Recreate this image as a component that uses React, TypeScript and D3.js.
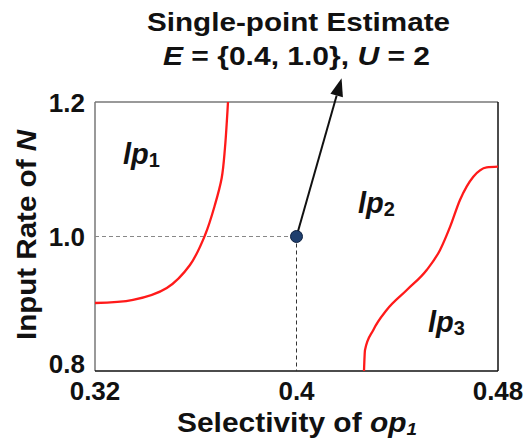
import React from "react";
import * as d3 from "d3";

// axis ticks
const xTicks = [0.32, 0.4, 0.48];
const xTickLabels = ["0.32", "0.4", "0.48"];
const yTicks = [0.8, 1.0, 1.2];
const yTickLabels = ["0.8", "1.0", "1.2"];

// plan boundaries (selectivity, input rate)
const boundary1X = [0.32, 0.3351, 0.3485, 0.3577, 0.3637, 0.3676, 0.3703, 0.3716, 0.3725, 0.3728];
const boundary1Y = [0.9011, 0.9056, 0.9234, 0.9576, 1.0022, 1.0468, 1.087, 1.1316, 1.1807, 1.2];
const boundary2X = [0.4268, 0.4272, 0.4305, 0.4358, 0.4438, 0.4517, 0.457, 0.461, 0.4649, 0.4702, 0.4755, 0.48];
const boundary2Y = [0.8, 0.8312, 0.861, 0.8907, 0.9204, 0.9502, 0.98, 1.0146, 1.0543, 1.0889, 1.1029, 1.104];

// region labels
const regionNames = ["lp", "lp", "lp"];
const regionSubs = ["1", "2", "3"];
const regionX = [0.3311, 0.4244, 0.4522];
const regionY = [1.108, 1.035, 0.858];

// estimate point and annotation
const estimate = { x: 0.4, y: 1.0 };
const arrowTip = { x: 0.4179, y: 1.2353 };

const W = 526;
const H = 439;
const margin = { left: 95, top: 102, right: 28, bottom: 68 };
const font = "'Liberation Sans', Arial, Helvetica, sans-serif";

export default function App() {
  const x = d3.scaleLinear().domain([0.32, 0.48]).range([margin.left, W - margin.right]);
  const y = d3.scaleLinear().domain([0.8, 1.2]).range([H - margin.bottom, margin.top]);

  const line1 = d3
    .line<[number, number]>()
    .x((d) => x(d[0]))
    .y((d) => y(d[1]))
    .curve(d3.curveCatmullRom.alpha(0.5));
  const line2 = d3
    .line<[number, number]>()
    .x((d) => x(d[0]))
    .y((d) => y(d[1]))
    .curve(d3.curveMonotoneX);

  const b1 = boundary1X.map((v, i) => [v, boundary1Y[i]] as [number, number]);
  const b2 = boundary2X.map((v, i) => [v, boundary2Y[i]] as [number, number]);

  const [x0, x1] = x.range();
  const [y0, y1] = y.range(); // y0 bottom, y1 top

  // arrow geometry
  const px = x(estimate.x), py = y(estimate.y);
  const tx = x(arrowTip.x), ty = y(arrowTip.y);
  const ang = Math.atan2(ty - py, tx - px);
  const headLen = 18, headW = 6.5;
  const bx = tx - headLen * Math.cos(ang), by = ty - headLen * Math.sin(ang);
  const head = [
    [tx, ty],
    [bx + headW * Math.sin(ang), by - headW * Math.cos(ang)],
    [bx - headW * Math.sin(ang), by + headW * Math.cos(ang)],
  ];

  return (
    <svg
      width={W}
      height={H}
      style={{ position: "absolute", left: 0, top: 0, background: "#fff" }}
      fontFamily={font}
    >
      {/* title */}
      <text x={298.5} y={31} textAnchor="middle" fontSize={26} fontWeight="bold" fill="#111"
        textLength={303} lengthAdjust="spacingAndGlyphs">
        Single-point Estimate
      </text>
      <text x={296.5} y={65} textAnchor="middle" fontSize={26} fontWeight="bold" fill="#111"
        textLength={267} lengthAdjust="spacingAndGlyphs">
        <tspan fontStyle="italic">E</tspan> = {"{"}0.4, 1.0{"}"}, <tspan fontStyle="italic">U</tspan> = 2
      </text>

      {/* frame */}
      <line x1={x0} x2={x1} y1={y1} y2={y1} stroke="#777" strokeWidth={1.5} />
      <line x1={x0} x2={x0} y1={y1} y2={y0} stroke="#777" strokeWidth={1.5} />
      <line x1={x1} x2={x1} y1={y1} y2={y0} stroke="#111" strokeWidth={1.5} />
      <line x1={x0} x2={x1} y1={y0} y2={y0} stroke="#111" strokeWidth={1.5} />

      {/* guide lines to the estimate */}
      <line x1={x0} x2={px} y1={py} y2={py} stroke="#888" strokeWidth={1} strokeDasharray="4,3" />
      <line x1={px} x2={px} y1={py} y2={y0} stroke="#333" strokeWidth={1} strokeDasharray="4,3" />

      {/* boundaries */}
      <path d={line1(b1) || ""} fill="none" stroke="#ff1a1a" strokeWidth={2.3} />
      <path d={line2(b2) || ""} fill="none" stroke="#ff1a1a" strokeWidth={2.3} />

      {/* region labels */}
      {regionNames.map((n, i) => (
        <text key={i} x={x(regionX[i])} y={y(regionY[i])} fontSize={29} fontWeight="bold" fill="#111">
          <tspan fontStyle="italic">{n}</tspan>
          <tspan fontSize={20} dy={3}>{regionSubs[i]}</tspan>
        </text>
      ))}

      {/* arrow */}
      <line x1={px} y1={py} x2={bx} y2={by} stroke="#111" strokeWidth={2} />
      <polygon points={head.map((p) => p.join(",")).join(" ")} fill="#111" />
      <circle cx={px} cy={py} r={6} fill="#1f3f6e" stroke="#0e2140" strokeWidth={1} />

      {/* ticks */}
      {yTicks.map((t, i) => (
        <text
          key={t}
          x={x0 - 10}
          y={Math.max(y1 + 10, Math.min(y(t) + 9, y0 + 2))}
          textAnchor="end"
          fontSize={26}
          fontWeight="bold"
          fill="#111"
        >
          {yTickLabels[i]}
        </text>
      ))}
      {xTicks.map((t, i) => (
        <text key={t} x={x(t)} y={y0 + 29} textAnchor="middle" fontSize={26} fontWeight="bold" fill="#111">
          {xTickLabels[i]}
        </text>
      ))}

      {/* axis titles */}
      <text x={297} y={432} textAnchor="middle" fontSize={27} fontWeight="bold" fill="#111"
        textLength={240} lengthAdjust="spacingAndGlyphs">
        Selectivity of <tspan fontStyle="italic">op</tspan>
        <tspan fontStyle="italic" fontSize={17} dy={3}>1</tspan>
      </text>
      <text
        transform={`translate(36,235) rotate(-90)`}
        textAnchor="middle"
        fontSize={27}
        fontWeight="bold"
        fill="#111"
        textLength={210}
        lengthAdjust="spacingAndGlyphs"
      >
        Input Rate of <tspan fontStyle="italic">N</tspan>
      </text>
    </svg>
  );
}
